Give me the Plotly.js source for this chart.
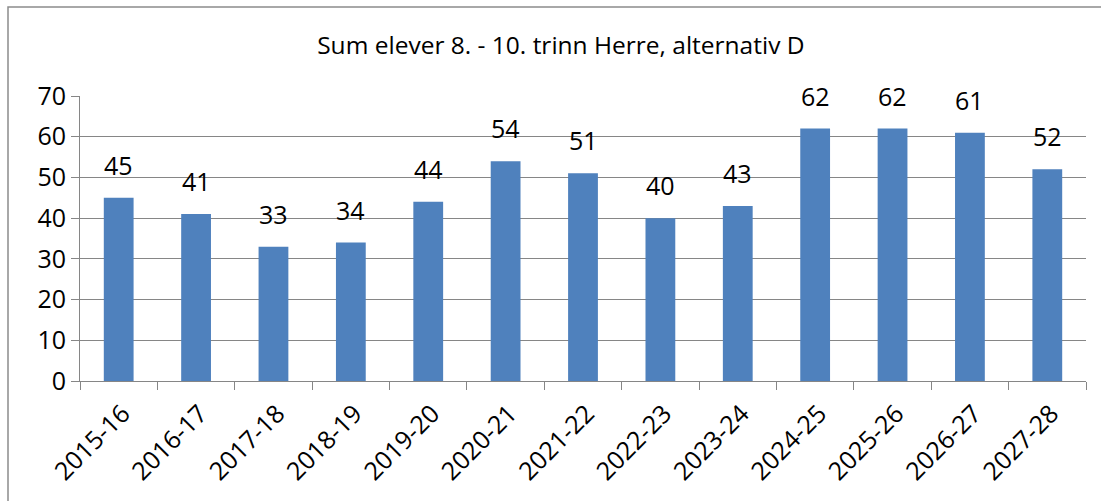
<!DOCTYPE html>
<html><head><meta charset="utf-8">
<script src="https://cdn.plot.ly/plotly-3.0.1.min.js"></script>
<style>html,body{margin:0;padding:0;background:#fff}#c{width:1101px;height:501px}</style>
</head><body><div id="c"></div>
<script>
const categories = ["2015-16","2016-17","2017-18","2018-19","2019-20","2020-21","2021-22","2022-23","2023-24","2024-25","2025-26","2026-27","2027-28"];
const values = [45,41,33,34,44,54,51,40,43,62,62,61,52];
const chartTitle = "Sum elever 8. - 10. trinn Herre, alternativ D";

const font = "'Open Sans', sans-serif";
const trace = {
  type: "bar", x: categories, y: values,
  marker: {color: "#4F81BD"},
  cliponaxis: false, hoverinfo: "none"
};
const labels = categories.map((c, i) => ({
  x: c, y: values[i], xref: "x", yref: "y",
  text: String(values[i]), showarrow: false,
  yanchor: "bottom", yshift: 14,
  font: {family: font, size: 25, color: "#000"}
}));
const layout = {
  width: 1101, height: 501,
  margin: {l: 80, r: 15, t: 96, b: 120},
  paper_bgcolor: "#fff", plot_bgcolor: "#fff",
  showlegend: false, bargap: 0.615,
  title: {text: chartTitle, font: {family: font, size: 24.5, color: "#000"}, xref: "paper", x: 0.478, xanchor: "center", y: 0.91, yanchor: "middle"},
  xaxis: {
    type: "category", tickangle: -45, tickson: "boundaries",
    ticks: "outside", ticklen: 8, tickcolor: "#868686", tickwidth: 1,
    ticklabelstandoff: 7, ticklabelshift: 4,
    showline: true, linecolor: "#868686", linewidth: 1,
    showgrid: false, tickfont: {family: font, size: 25, color: "#000"}
  },
  yaxis: {
    range: [0, 70], dtick: 10, tick0: 0,
    ticks: "outside", ticklen: 8, tickcolor: "#868686", tickwidth: 1,
    showline: true, linecolor: "#868686", linewidth: 1,
    showgrid: true, gridcolor: "#868686", gridwidth: 1, zeroline: false,
    tickfont: {family: font, size: 25, color: "#000"}
  },
  annotations: labels,
  shapes: [{type: "rect", xref: "paper", yref: "paper",
    x0: (8-80)/1006, x1: (1115-80)/1006, y0: (381-515)/285, y1: (381-7)/285,
    line: {color: "#8c8c8c", width: 1.5}, fillcolor: "rgba(0,0,0,0)", layer: "below"}]
};
Plotly.newPlot("c", [trace], layout, {staticPlot: true, displayModeBar: false});
</script></body></html>
